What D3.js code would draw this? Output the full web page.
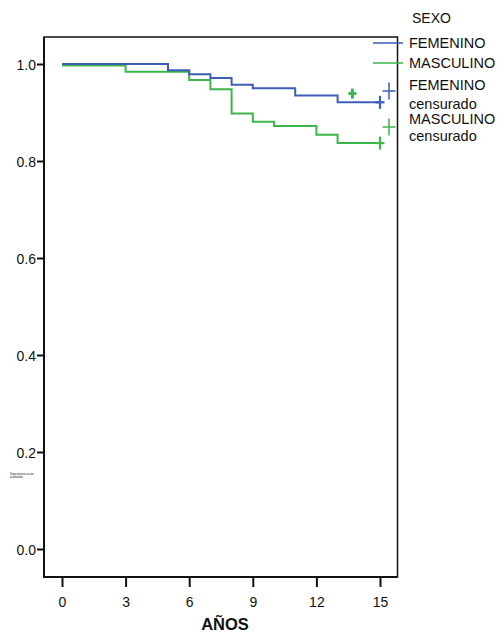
<!DOCTYPE html>
<html>
<head>
<meta charset="utf-8">
<script src="https://cdn.jsdelivr.net/npm/d3@7"></script>
<style>
  body { margin: 0; background: #fff; }
  text { font-family: "Liberation Sans", Arial, sans-serif; fill: #111; }
</style>
</head>
<body>
<div class="canvas"></div>
<script>
const width = 501, height = 634;

// data
const femTimes = [0, 5, 6, 7, 8, 9, 11, 13, 15],
    femSurv = [1.0, 0.987, 0.979, 0.971, 0.957, 0.950, 0.935, 0.921, 0.921],
    mascTimes = [0, 3, 6, 7, 8, 9, 10, 12, 13, 15],
    mascSurv = [0.997, 0.984, 0.967, 0.948, 0.898, 0.881, 0.872, 0.854, 0.837, 0.837],
    femCensor = [[15, 0.921]],
    mascCensor = [[15, 0.837]],
    extraCensor = [[13.7, 0.939]],
    xTicks = [0, 3, 6, 9, 12, 15],
    yTicks = [0.0, 0.2, 0.4, 0.6, 0.8, 1.0],
    legendLabels = ["FEMENINO", "MASCULINO", ["FEMENINO", "censurado"], ["MASCULINO", "censurado"]];

const blue = "#3d5db6", green = "#3cb54a";

const svg = d3.select('.canvas').append("svg")
    .attr('width', width)
    .attr('height', height);

const box = { left: 44, right: 397.5, top: 37, bottom: 577 };

const x = d3.scaleLinear().domain([0, 15]).range([62, 380]);
const y = d3.scaleLinear().domain([0, 1]).range([549, 64]);

// frame
svg.append("rect")
    .attr("x", box.left).attr("y", box.top)
    .attr("width", box.right - box.left).attr("height", box.bottom - box.top)
    .attr("fill", "none").attr("stroke", "#111").attr("stroke-width", 1.5);
svg.append("line").attr("x1", box.left).attr("x2", box.left).attr("y1", box.top).attr("y2", box.bottom + 1)
    .attr("stroke", "#111").attr("stroke-width", 2);
svg.append("line").attr("x1", box.left).attr("x2", box.right).attr("y1", box.bottom).attr("y2", box.bottom)
    .attr("stroke", "#111").attr("stroke-width", 2);

// y axis
const yAxis = svg.append("g")
    .attr("transform", `translate(${box.left},0)`)
    .call(d3.axisLeft(y).tickValues(yTicks).tickFormat(d3.format(".1f")).tickSize(7).tickPadding(1));
yAxis.select(".domain").remove();
yAxis.selectAll("line").attr("stroke", "#111").attr("stroke-width", 2);
yAxis.selectAll("text").attr("font-size", 14).attr("fill", "#111")
    .attr("font-family", "'Liberation Sans', Arial, sans-serif").attr("dy", "0.36em");

// x axis
const xAxis = svg.append("g")
    .attr("transform", `translate(0,${box.bottom})`)
    .call(d3.axisBottom(x).tickValues(xTicks).tickSize(10).tickPadding(10));
xAxis.select(".domain").remove();
xAxis.selectAll("line").attr("stroke", "#111").attr("stroke-width", 2);
xAxis.selectAll("text").attr("font-size", 14).attr("fill", "#111")
    .attr("font-family", "'Liberation Sans', Arial, sans-serif");

svg.append("text")
    .attr("x", 225).attr("y", 630)
    .attr("text-anchor", "middle")
    .attr("font-size", 16.5).attr("font-weight", "bold")
    .text("AÑOS");

// tiny axis title
svg.append("text").attr("x", 10).attr("y", 474.5).attr("font-size", 2.6).attr("fill", "#555").text("Supervivencia acum");
svg.append("text").attr("x", 10).attr("y", 477.5).attr("font-size", 2.6).attr("fill", "#555").text("acumulada");

// step curves
const step = d3.line().x(d => x(d[0])).y(d => y(d[1])).curve(d3.curveStepAfter);
svg.append("path").datum(mascTimes.map((t, i) => [t, mascSurv[i]]))
    .attr("d", step).attr("fill", "none").attr("stroke", green).attr("stroke-width", 2);
svg.append("path").datum(femTimes.map((t, i) => [t, femSurv[i]]))
    .attr("d", step).attr("fill", "none").attr("stroke", blue).attr("stroke-width", 2);

const plus = (g, cx, cy, w, h, color, sw) => {
    g.append("line").attr("x1", cx - w / 2).attr("x2", cx + w / 2).attr("y1", cy).attr("y2", cy)
        .attr("stroke", color).attr("stroke-width", sw);
    g.append("line").attr("x1", cx).attr("x2", cx).attr("y1", cy - h / 2).attr("y2", cy + h / 2)
        .attr("stroke", color).attr("stroke-width", sw);
};

femCensor.forEach(d => plus(svg, x(d[0]), y(d[1]), 9, 13, blue, 2.2));
mascCensor.forEach(d => plus(svg, x(d[0]), y(d[1]), 9, 13, green, 2.2));
extraCensor.forEach(d => plus(svg, x(d[0]), y(d[1]), 8, 10, green, 3));

// legend
svg.append("text").attr("x", 412).attr("y", 23).attr("font-size", 14).text("SEXO");
const legY = [43, 63];
[blue, green].forEach((c, i) => {
    svg.append("line").attr("x1", 373).attr("x2", 403).attr("y1", legY[i]).attr("y2", legY[i])
        .attr("stroke", c).attr("stroke-width", 1.5);
    svg.append("text").attr("x", 409).attr("y", legY[i] + 5).attr("font-size", 14.5).text(legendLabels[i]);
});
const legCY = [91, 127], legTY = [[90, 109], [124, 141]];
[blue, green].forEach((c, i) => {
    plus(svg, 389, legCY[i], 13, 17, c, 1.5);
    svg.append("text").attr("x", 409).attr("y", legTY[i][0]).attr("font-size", 14.5).text(legendLabels[i + 2][0]);
    svg.append("text").attr("x", 409).attr("y", legTY[i][1]).attr("font-size", 14.5).text(legendLabels[i + 2][1]);
});
</script>
</body>
</html>
